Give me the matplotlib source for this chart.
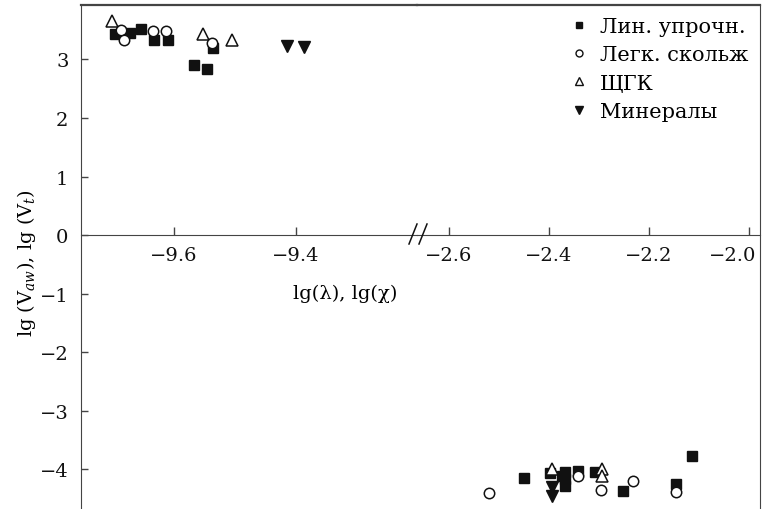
import matplotlib.pyplot as plt
import matplotlib.transforms as mtransforms
from matplotlib.lines import Line2D

plt.rcParams['font.family'] = ['DejaVu Serif']
plt.rcParams['mathtext.fontset'] = 'dejavuserif'

# Лин. упрочн. (filled squares)
lin_x = [-9.697, -9.671, -9.653, -9.633, -9.609, -9.536, -9.567, -9.545,
         -2.451, -2.398, -2.375, -2.368, -2.368, -2.368, -2.343, -2.308,
         -2.253, -2.147, -2.115]
lin_y = [3.43, 3.45, 3.52, 3.34, 3.34, 3.20, 2.90, 2.83,
         -4.15, -4.07, -4.12, -4.05, -4.17, -4.28, -4.03, -4.05,
         -4.38, -4.25, -3.78]
# Легк. скольж (open circles)
leg_x = [-9.686, -9.682, -9.634, -9.613, -9.537,
         -2.520, -2.343, -2.297, -2.232, -2.147]
leg_y = [3.50, 3.33, 3.49, 3.48, 3.28,
         -4.40, -4.12, -4.36, -4.21, -4.39]
# ЩГК (open triangles)
shgk_x = [-9.702, -9.552, -9.505, -2.395, -2.295, -2.295]
shgk_y = [3.66, 3.43, 3.33, -3.99, -3.99, -4.11]
# Минералы (filled down triangles)
min_x = [-9.415, -9.387, -2.395, -2.395]
min_y = [3.23, 3.21, -4.31, -4.45]

labels = ['Лин. упрочн.', 'Легк. скольж', 'ЩГК', 'Минералы']
left_ticks = [-9.6, -9.4]
right_ticks = [-2.6, -2.4, -2.2, -2.0]
right_ticklabels = ['−2.6', '−2.4', '−2.2', '−2.0']
y_ticks = [-4, -3, -2, -1, 0, 1, 2, 3]

W, H = 763, 510
fig = plt.figure(figsize=(W / 100, H / 100), dpi=100)
x0, xb, x1 = 81, 417, 760
top = 6
axL = fig.add_axes([x0 / W, 0, (xb - x0) / W, 1 - top / H])
axR = fig.add_axes([xb / W, 0, (x1 - xb) / W, 1 - top / H], sharey=axL)

spine_c = '#444444'
for ax in (axL, axR):
    ax.plot(lin_x, lin_y, 's', color='#111111', ms=7.5, mec='#111111')
    ax.plot(leg_x, leg_y, 'o', mfc='white', mec='#111111', ms=7.5, mew=1.1)
    ax.plot(shgk_x, shgk_y, '^', mfc='white', mec='#111111', ms=8.5, mew=1.1)
    ax.plot(min_x, min_y, 'v', color='#111111', ms=8.5)
    ax.set_ylim(-4.68, 3.93)
    ax.spines['bottom'].set_position(('data', 0))
    ax.spines['bottom'].set_color(spine_c)
    ax.spines['top'].set_color(spine_c)
    ax.spines['top'].set_linewidth(1.6)
    ax.tick_params(axis='x', direction='in', length=6, width=1, colors=spine_c,
                   labelcolor='#111111', labelsize=14, pad=8)
    ax.set_facecolor('none')

axL.set_xlim(-9.752, -9.202)
axR.set_xlim(-2.664, -1.978)
axL.set_xticks(left_ticks)
axR.set_xticks(right_ticks)
axR.set_xticklabels(right_ticklabels)
# last label pulled left so it stays inside the figure
last = axR.get_xticklabels()[-1]
last.set_horizontalalignment('right')
last.set_transform(last.get_transform() +
                   mtransforms.ScaledTranslation(7 / 100, 0, fig.dpi_scale_trans))

axL.spines['right'].set_visible(False)
axR.spines['left'].set_visible(False)
axL.spines['left'].set_color(spine_c)
axR.spines['right'].set_color(spine_c)
axL.set_yticks(y_ticks)
axL.tick_params(axis='y', direction='in', length=5, width=1, colors=spine_c,
                labelcolor='#111111', labelsize=14, pad=9)
axR.tick_params(axis='y', left=False, labelleft=False)

# axis break marks
for dx in (0, 10):
    fig.add_artist(Line2D([(409 + dx) / W, (417 + dx) / W],
                          [1 - 245 / H, 1 - 225 / H],
                          color='#111111', lw=1.1))

fig.text(345 / W, 1 - 294 / H, 'lg(λ), lg(χ)', ha='center', va='center',
         fontsize=14)
fig.text(27 / W, 1 - 263 / H, r'lg ($\mathrm{V}_{aw}$), lg ($\mathrm{V}_t$)',
         rotation=90, ha='center', va='center', fontsize=14)

handles = [
    Line2D([], [], ls='none', marker='s', color='#111111', ms=5),
    Line2D([], [], ls='none', marker='o', mfc='white', mec='#111111', ms=5),
    Line2D([], [], ls='none', marker='^', mfc='white', mec='#111111', ms=5.5),
    Line2D([], [], ls='none', marker='v', color='#111111', ms=5.5),
]
fig.legend(handles, labels, loc='upper right', bbox_to_anchor=(748 / W, 1 - 18 / H),
           frameon=False, fontsize=15, handlelength=0.8, handletextpad=0.6,
           labelspacing=0.45, borderpad=0, borderaxespad=0)

fig.savefig('out.png', dpi=100)
